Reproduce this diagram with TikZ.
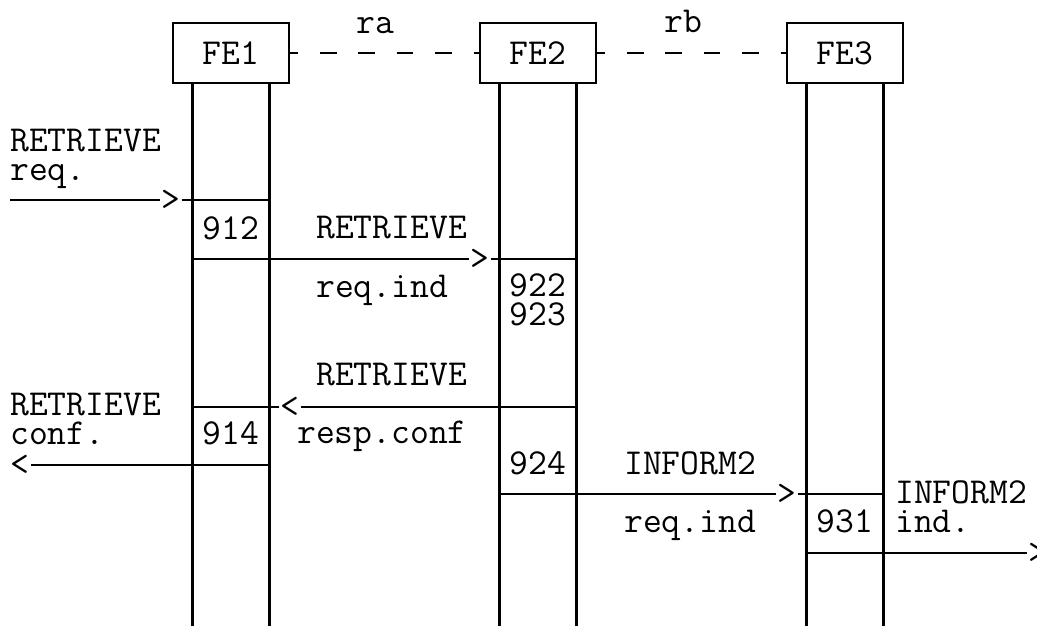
\documentclass[tikz,border=0pt]{standalone}
\usepackage{fontspec}
\usetikzlibrary{calc}

\begin{document}
\begin{tikzpicture}[x=0.025cm,y=-0.025cm,line width=1.8pt,
  txt/.style={font=\ttfamily\fontsize{26}{20.6}\selectfont,inner sep=0pt},
  fe/.style={draw,txt,minimum width=2.9cm,minimum height=1.5cm},
  link/.style={dash pattern=on 11.9pt off 15.4pt,dash phase=6.2pt},
  tip/.style={txt}]
\clip (0,0) rectangle (1037,626);
\coordinate (bot) at (0,626);
% entities and lifelines
\node[fe] (fe1) at (231,53) {FE1}; \node[fe] (fe2) at (538,53) {FE2}; \node[fe] (fe3) at (845,53) {FE3};
\draw[link] (fe1) -- (fe2); \draw[link] (fe2) -- (fe3);
\node[txt,anchor=base] (ra) at (375,33) {ra}; \node[txt,anchor=base] (rb) at (683,32) {rb};
\foreach \n in {1,2,3} {
  \coordinate (l\n) at ($(fe\n.south)+(-38.5,0)$); \coordinate (r\n) at ($(fe\n.south)+(38.5,0)$);
  \draw (l\n) -- (l\n |- bot); \draw (r\n) -- (r\n |- bot);
}
% messages
\coordinate (m1) at (10,200);
\node[tip] (t1) at (171,200) {>}; \draw (m1) -- (t1.west); \draw (t1.east) -- (t1 -| r1);
\node[tip] (t2) at (480,259) {>}; \draw (t2 -| l1) -- (t2.west); \draw (t2.east) -- (t2 -| r2);
\node[tip] (t3) at (290,407) {<}; \draw (t3 -| r2) -- (t3.east); \draw (t3.west) -- (t3 -| l1);
\node[tip] (t4) at (20,465) {<}; \draw (t4 -| r1) -- (t4.east);
\node[tip] (t5) at (787,494) {>}; \draw (t5 -| l2) -- (t5.west); \draw (t5.east) -- (t5 -| r3);
\node[tip] (t6) at (1038,553) {>}; \draw (t6 -| l3) -- (t6.west);
% labels
\node[txt,anchor=base west,align=left] (q1) at (9,180) {RETRIEVE\\req.};
\node[txt,anchor=base] (s912) at (231,239) {912};
\node[txt,anchor=base west] (q2a) at (315,238) {RETRIEVE};
\node[txt,anchor=base west] (q2b) at (315,297) {req.ind};
\node[txt,anchor=base,align=center] (s922) at (538,325) {922\\923};
\node[txt,anchor=base west] (q3a) at (315,385) {RETRIEVE};
\node[txt,anchor=base west] (q3b) at (296,443) {resp.conf};
\node[txt,anchor=base west,align=left] (q4) at (9,444) {RETRIEVE\\conf.};
\node[txt,anchor=base] (s914) at (231,444) {914};
\node[txt,anchor=base] (s924) at (538,474) {924};
\node[txt,anchor=base west] (q5a) at (623,474) {INFORM2};
\node[txt,anchor=base west] (q5b) at (623,532) {req.ind};
\node[txt,anchor=base] (s931) at (845,532) {931};
\node[txt,anchor=base west,align=left] (q6) at (894,532) {INFORM2\\ind.};
\end{tikzpicture}
\end{document}
